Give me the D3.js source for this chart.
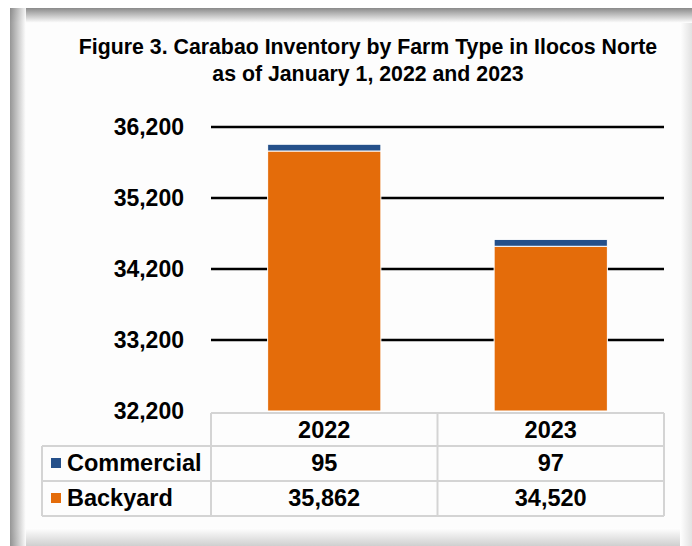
<!DOCTYPE html>
<html>
<head>
<meta charset="utf-8">
<script src="https://cdn.jsdelivr.net/npm/d3@7"></script>
<style>
  html, body { margin: 0; padding: 0; background: #fff; }
  svg { display: block; }
  text { font-family: "Liberation Sans", Arial, sans-serif; font-weight: bold; fill: #000; }
</style>
</head>
<body>
<svg id="chart" width="692" height="546"></svg>
<script>
const years = ["2022", "2023"];
const seriesNames = ["Commercial", "Backyard"];
const commercial = [95, 97];
const backyard = [35862, 34520];
const yTicks = [32200, 33200, 34200, 35200, 36200];
const colors = { Backyard: "#E46C0A", Commercial: "#25508A" };
const titleLines = ["Figure 3. Carabao Inventory by Farm Type in Ilocos Norte", "as of January 1, 2022 and 2023"];

const svg = d3.select("#chart");
const W = 692, H = 546;

// frame with inner shadow
const defs = svg.append("defs");
function grad(id, x1, y1, x2, y2, c1, c2) {
  const g = defs.append("linearGradient").attr("id", id)
    .attr("x1", x1).attr("y1", y1).attr("x2", x2).attr("y2", y2);
  g.append("stop").attr("offset", "0%").attr("stop-color", c1);
  g.append("stop").attr("offset", "100%").attr("stop-color", c2);
}
grad("gTop", 0, 0, 0, 1, "#8a8a8a", "#ffffff");
grad("gLeft", 0, 0, 1, 0, "#8a8a8a", "#ffffff");
grad("gBottom", 0, 1, 0, 0, "#cfcfcf", "#ffffff");
grad("gRight", 1, 0, 0, 0, "#e2e2e2", "#ffffff");

const fx0 = 10, fy0 = 8;
svg.append("rect").attr("x", fx0).attr("y", fy0).attr("width", W - fx0).attr("height", H - fy0).attr("fill", "#fdfdfd");
svg.append("rect").attr("x", fx0).attr("y", H - 18).attr("width", W - fx0).attr("height", 18).attr("fill", "url(#gBottom)");
svg.append("rect").attr("x", W - 12).attr("y", fy0).attr("width", 12).attr("height", H - fy0).attr("fill", "url(#gRight)");
svg.append("rect").attr("x", fx0).attr("y", fy0).attr("width", W - fx0).attr("height", 15).attr("fill", "url(#gTop)");
svg.append("rect").attr("x", fx0).attr("y", fy0).attr("width", 16).attr("height", H - fy0).attr("fill", "url(#gLeft)").attr("opacity", 0.9);

// title
svg.append("g").selectAll("text").data(titleLines).join("text")
  .attr("x", 368).attr("y", (d, i) => 54 + i * 27)
  .attr("text-anchor", "middle").attr("font-size", 21.3)
  .text(d => d);

// scales
const plotL = 211, plotR = 664, plotT = 127, plotB = 411;
const x = d3.scaleBand().domain(years).range([plotL, plotR]).paddingInner(0.5).paddingOuter(0.25);
const y = d3.scaleLinear().domain([yTicks[0], yTicks[yTicks.length - 1]]).range([plotB, plotT]);

// gridlines
svg.append("g").selectAll("line").data(yTicks.slice(1)).join("line")
  .attr("x1", plotL).attr("x2", plotR)
  .attr("y1", d => y(d)).attr("y2", d => y(d))
  .attr("stroke", "#000").attr("stroke-width", 2.5);

// stacked bars
const table = years.map((yr, i) => ({ year: yr, Backyard: backyard[i], Commercial: commercial[i] }));
const stack = d3.stack().keys(["Backyard", "Commercial"]);
const layers = stack(table);
svg.append("g").selectAll("g").data(layers).join("g")
  .attr("fill", d => colors[d.key])
  .selectAll("rect").data(d => d).join("rect")
  .attr("x", d => x(d.data.year))
  .attr("width", x.bandwidth())
  .attr("y", d => y(Math.max(d[1], yTicks[0])))
  .attr("height", d => y(Math.max(d[0], yTicks[0])) - y(d[1]))
  .attr("stroke", "#fff").attr("stroke-width", 1);

// y axis
const yAxis = d3.axisLeft(y).tickValues(yTicks).tickFormat(d3.format(",")).tickSize(0).tickPadding(0);
const ag = svg.append("g").attr("transform", "translate(184,0)").call(yAxis);
ag.select(".domain").remove();
ag.selectAll("text").attr("font-size", 23).attr("font-family", "'Liberation Sans', Arial, sans-serif")
  .attr("font-weight", "bold").attr("fill", "#000");

// data table
const rowY = [413, 446, 481, 516];
const tableL = 42;
const colB = [plotL, plotL + x.step(), plotL + 2 * x.step()];
const tg = svg.append("g").attr("stroke", "#d4d4d4").attr("stroke-width", 2).attr("fill", "none");
tg.append("line").attr("x1", plotL).attr("x2", plotR).attr("y1", rowY[0]).attr("y2", rowY[0]);
rowY.slice(1).forEach(yy => tg.append("line").attr("x1", tableL).attr("x2", plotR).attr("y1", yy).attr("y2", yy));
tg.append("line").attr("x1", tableL).attr("x2", tableL).attr("y1", rowY[1]).attr("y2", rowY[3]);
colB.forEach(xx => tg.append("line").attr("x1", xx).attr("x2", xx).attr("y1", rowY[0]).attr("y2", rowY[3]));

const fs = 23.5;
svg.append("g").selectAll("text").data(years).join("text")
  .attr("x", d => x(d) + x.bandwidth() / 2).attr("y", 438)
  .attr("text-anchor", "middle").attr("font-size", fs).text(d => d);

const rows = [
  { name: "Commercial", vals: commercial, base: 471 },
  { name: "Backyard", vals: backyard, base: 506 }
];
rows.forEach(r => {
  svg.append("rect").attr("x", 51).attr("y", r.base - 13).attr("width", 10).attr("height", 10)
    .attr("fill", colors[r.name]);
  svg.append("text").attr("x", 67).attr("y", r.base).attr("font-size", fs).text(r.name);
  svg.append("g").selectAll("text").data(r.vals).join("text")
    .attr("x", (d, i) => x(years[i]) + x.bandwidth() / 2).attr("y", r.base)
    .attr("text-anchor", "middle").attr("font-size", fs)
    .text(d => d3.format(",")(d));
});
</script>
</body>
</html>
